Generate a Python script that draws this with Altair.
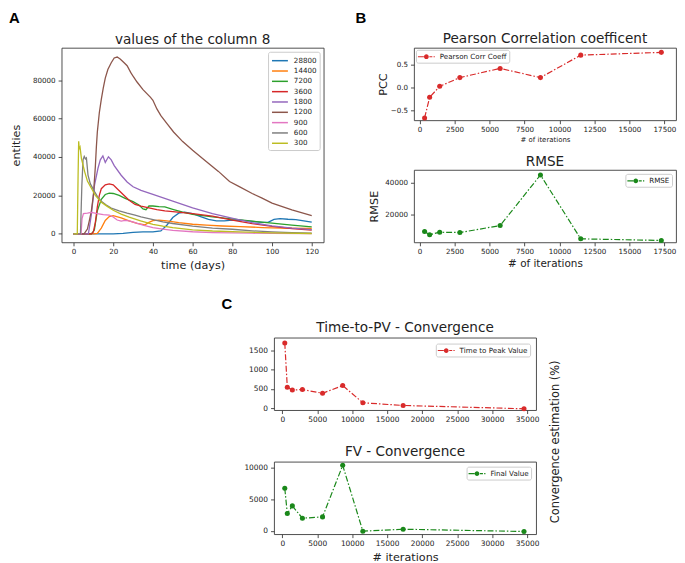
import altair as alt
import pandas as pd

FONT = "DejaVu Sans"
LETTER_FONT = "Liberation Sans"
TXT = "#222222"
RED = "#d92b2b"
GREEN = "#1a881a"

# ---------------- Panel A data ----------------
SERIES = ["28800", "14400", "7200", "3600", "1800", "1200", "900", "600", "300"]
COLORS = ["#1f77b4", "#ff7f0e", "#2ca02c", "#d62728", "#9467bd",
          "#8c564b", "#e377c2", "#7f7f7f", "#bcbd22"]

days_28800 = [0, 20, 25, 30, 35, 40, 44, 47, 50, 53, 56, 60, 64, 68, 72, 76, 80, 85, 90, 95, 98, 101, 104, 108, 112, 116, 120]
vals_28800 = [0, 0, 300, 800, 1000, 1000, 1500, 4500, 8500, 10800, 11300, 10500, 9000, 7500, 6800, 6800, 7200, 7000, 6500, 6000, 6000, 7500, 7900, 7600, 7400, 6800, 6100]

days_14400 = [0, 10, 12, 14, 16, 18, 20, 24, 28, 32, 36, 38, 40, 43, 47, 53, 60, 67, 75, 84, 95, 105, 120]
vals_14400 = [0, 0, 300, 3000, 7000, 9000, 9500, 8300, 6800, 5500, 4700, 6000, 6900, 7100, 6800, 5800, 5000, 4500, 4100, 3800, 3300, 3000, 2800]

days_7200 = [0, 9, 10.5, 12, 14, 16, 18, 20, 23, 26, 30, 33, 35, 36.5, 38, 40, 43, 46, 50, 55, 60, 70, 83, 90, 100, 110, 120]
vals_7200 = [0, 0, 2000, 12000, 18000, 20500, 21200, 21000, 20000, 18500, 16800, 15000, 13000, 12600, 14500, 14500, 14200, 14000, 12800, 11300, 10200, 8800, 7400, 6600, 5600, 4600, 3600]

days_3600 = [0, 9, 10, 11, 12, 13, 14, 16, 18, 20, 22, 25, 28, 31, 34, 38, 42, 46, 50, 55, 60, 70, 80, 90, 100, 110, 120]
vals_3600 = [0, 0, 1000, 6000, 14000, 20000, 23500, 25500, 26000, 25500, 23500, 20500, 17500, 15300, 14400, 13500, 12600, 12000, 11600, 11000, 10500, 9200, 7200, 5300, 3900, 2800, 2000]

days_1800 = [0, 7.5, 9, 10.6, 12.3, 13.5, 14.8, 16, 17.6, 19, 20.5, 24, 27, 30, 34, 40, 50, 60, 70, 83, 90, 100, 110, 120]
vals_1800 = [0, 0, 10000, 25500, 34000, 38500, 40600, 37200, 40100, 38500, 35500, 30500, 27000, 24500, 22600, 20500, 17000, 13500, 10500, 7400, 5800, 4200, 3000, 2200]

days_1200 = [0, 5.3, 7, 8, 9, 10, 11, 11.5, 12, 13, 14, 15, 16, 17.3, 19, 20.5, 22, 23.5, 25.5, 27,
             28.8, 30, 32, 35, 38.8, 40, 42, 44, 47, 50.4, 55, 60, 67, 73, 78.6, 83.5, 90, 95, 100, 110, 120]
vals_1200 = [0, 0, 2500, 7000, 12000, 20000, 35000, 45000, 53000, 63000, 70000, 76000, 81000, 85500, 89000, 91500, 92000, 91000, 89000, 87500,
             84000, 82000, 79000, 75000, 71000, 69500, 65000, 61500, 57500, 53000, 48000, 43500, 37500, 32500, 27200, 24600, 21000, 18600, 16000, 12500, 9500]

days_900 = [0, 3.8, 4.3, 5, 7, 9, 12, 15, 18, 20, 22, 24, 26, 28, 31, 35, 40, 45, 50, 60, 70, 80, 90, 100, 120]
vals_900 = [0, 0, 8000, 10500, 10800, 11200, 10500, 10000, 9800, 8800, 7200, 6600, 7000, 6800, 5800, 4600, 3300, 2500, 1800, 1100, 700, 500, 350, 250, 150]

days_600 = [0, 3.5, 4.2, 4.8, 5.4, 6, 6.5, 7.3, 8.5, 10.6, 12, 14, 16.5, 19, 23, 27, 31, 34, 39, 45, 50, 60, 70, 80, 90, 100, 110, 120]
vals_600 = [0, 0, 25000, 38500, 40300, 39000, 39500, 30600, 26000, 22000, 19500, 16900, 15000, 13400, 12000, 10800, 9700, 8800, 7700, 6300, 5400, 4000, 3000, 2400, 1600, 1000, 600, 400]

days_300 = [0, 1.9, 2.3, 2.6, 2.9, 3.3, 4, 5.6, 7, 9, 11, 14, 17, 20, 24, 28, 33.8, 40, 45, 50, 60, 70, 83.5, 100, 120]
vals_300 = [0, 0, 30000, 48200, 44000, 45000, 39200, 32400, 27500, 23700, 20000, 16500, 14300, 12300, 10300, 8700, 6800, 5000, 4000, 3200, 2100, 1500, 1000, 500, 200]

A_DAYS = [days_28800, days_14400, days_7200, days_3600, days_1800, days_1200, days_900, days_600, days_300]
A_VALS = [vals_28800, vals_14400, vals_7200, vals_3600, vals_1800, vals_1200, vals_900, vals_600, vals_300]

# ---------------- Panels B / C data ----------------
ITERS_B = [360, 720, 1440, 2880, 5760, 8640, 11520, 17280]
PCC = [-0.67, -0.22, 0.02, 0.21, 0.41, 0.21, 0.70, 0.76]
RMSE = [9700, 7700, 9300, 9100, 13400, 44700, 5200, 4200]

ITERS_C = [360, 720, 1440, 2880, 5760, 8640, 11520, 17280, 34560]
TTPV = [1690, 545, 475, 485, 390, 590, 145, 75, -10]
FV = [6740, 2740, 3950, 2000, 2210, 10370, -50, 260, -100]

# ---------------- helpers ----------------
ONE = pd.DataFrame({"k": [0]})
# legend glyph: dash, marker, dash, dot  (units of r = 5 px)
LEG_PATH = ("M-1,-0.12H0.2V0.12H-1Z "
            "M0.22,0A0.48,0.48,0,1,0,1.18,0A0.48,0.48,0,1,0,0.22,0Z "
            "M1.3,-0.12H1.9V0.12H1.3Z "
            "M2.15,-0.12H2.4V0.12H2.15Z")
LINE_PATH = "M-1,0H2.2"


def letter(ch, dx, dy):
    return alt.Chart(ONE).mark_text(
        text=ch, font=LETTER_FONT, fontSize=15, fontWeight="bold",
        align="left", baseline="top", color="black"
    ).encode(x=alt.value(dx), y=alt.value(dy))


def head(txt, cx, dy):
    return alt.Chart(ONE).mark_text(
        text=txt, font=FONT, fontSize=13.7, color=TXT,
        align="center", baseline="alphabetic"
    ).encode(x=alt.value(cx), y=alt.value(dy))


def xaxis(vals, title=None, size=11.3, pad=4, lsize=7.2):
    kw = dict(values=vals, format="d", labelFontSize=lsize, labelPadding=2)
    if title:
        kw.update(title=title, titleFontSize=size, titlePadding=pad)
    else:
        kw.update(title=None)
    return alt.Axis(**kw)


def yaxis(vals, fmt="d", title=None, size=11.3, pad=5, lsize=7.2):
    kw = dict(values=vals, format=fmt, labelFontSize=lsize, labelPadding=3)
    if title:
        kw.update(title=title, titleFontSize=size, titlePadding=pad)
    else:
        kw.update(title=None)
    return alt.Axis(**kw)


def conv_panel(xs, ys, label, field, color, xdom, ydom, xticks, yticks, yfmt, title, tdy,
               orient, offset, xt=None, xts=11.3, xtp=4, yt=None, ytp=5, lsize=7.2, extra=()):
    df = pd.DataFrame({"x": xs, "y": ys, field: [label] * len(xs)})
    x = alt.X("x:Q", scale=alt.Scale(domain=xdom, nice=False, zero=False),
              axis=xaxis(xticks, xt, xts, xtp, lsize))
    y = alt.Y("y:Q", scale=alt.Scale(domain=ydom, nice=False, zero=False),
              axis=yaxis(yticks, yfmt, yt, 11.3, ytp, lsize))
    line = alt.Chart(df).mark_line(color=color, strokeWidth=1.2,
                                   strokeDash=[6, 2, 1.5, 2]).encode(x=x, y=y)
    pts = alt.Chart(df).mark_circle(size=26, opacity=1).encode(
        x=x, y=y,
        color=alt.Color(f"{field}:N", scale=alt.Scale(domain=[label], range=[color]),
                        legend=alt.Legend(title=None, orient=orient, offset=offset,
                                          symbolType=LEG_PATH, symbolSize=100,
                                          symbolFillColor=color, symbolStrokeWidth=0,
                                          symbolOpacity=1, labelFontSize=7.2,
                                          labelOffset=12, padding=2)))
    return alt.layer(line, pts, head(title, 132, tdy), *extra).properties(
        width=264, height=73)


# ---------------- Panel A ----------------
rows = []
for s, ds, vs in zip(SERIES, A_DAYS, A_VALS):
    for d, v in zip(ds, vs):
        rows.append({"run": s, "day": d, "value": v})
dfA = pd.DataFrame(rows)

linesA = alt.Chart(dfA).mark_line(strokeWidth=1.3).encode(
    x=alt.X("day:Q", scale=alt.Scale(domain=[-6, 126], nice=False, zero=False),
            axis=xaxis(list(range(0, 121, 20)), "time (days)", 11.3, 5)),
    y=alt.Y("value:Q", scale=alt.Scale(domain=[-4400, 96800], nice=False, zero=False),
            axis=yaxis([0, 20000, 40000, 60000, 80000], "d", "entities", 11.3, 11)),
    color=alt.Color("run:N", sort=SERIES,
                    scale=alt.Scale(domain=SERIES, range=COLORS),
                    legend=alt.Legend(title=None, orient="top-right", offset=4,
                                      symbolType=LINE_PATH, symbolSize=100,
                                      symbolStrokeWidth=1.5, labelFontSize=7.2,
                                      labelOffset=11, rowPadding=0.4, padding=3)),
)
anchor = alt.Chart(ONE).mark_rect(opacity=0).encode(
    x=alt.value(-53), x2=alt.value(0), y=alt.value(-37), y2=alt.value(0))
panelA = alt.layer(linesA, anchor, letter("A", -53, -37),
                   head("values of the column 8", 132, -4)).properties(
    width=264, height=196)

# ---------------- Panel B ----------------
pcc = conv_panel(ITERS_B, PCC, "Pearson Corr Coeff", "s_pcc", RED, [-400, 18330], [-0.72, 0.86],
                 list(range(0, 17501, 2500)), [-0.5, 0.0, 0.5], ".1f",
                 "Pearson Correlation coefficent", -5, "top-left", 2,
                 xt="# of iterations", xts=7, xtp=3, yt="PCC", ytp=2,
                 extra=(letter("B", -59, -37),))
rmse = conv_panel(ITERS_B, RMSE, "RMSE", "s_rmse", GREEN, [-400, 18330], [3040, 47860],
                  list(range(0, 17501, 2500)), [20000, 40000], "d",
                  "RMSE", -3.5, "top-right", 4,
                  xt="# of iterations", xts=10.5, xtp=4, yt="RMSE")

# ---------------- Panel C ----------------
side = alt.Chart(ONE).mark_text(
    text="Convergence estimation (%)", angle=270, font=FONT, fontSize=11.5,
    color=TXT, align="center", baseline="middle"
).encode(x=alt.value(284), y=alt.value(105))
ttpv = conv_panel(ITERS_C, TTPV, "Time to Peak Value", "s_ttpv", RED, [-1180, 36280], [-44, 1827],
                  list(range(0, 35001, 5000)), [0, 500, 1000, 1500], "d",
                  "Time-to-PV - Convergence", -5.5, "top-right", 6, lsize=7.5,
                  extra=(letter("C", -53, -41), side))
fv = conv_panel(ITERS_C, FV, "Final Value", "s_fv", GREEN, [-1180, 36280], [-520, 10946],
                list(range(0, 35001, 5000)), [0, 5000, 10000], "d",
                "FV - Convergence", -5.5, "top-right", 5, lsize=7.5,
                xt="# iterations", xts=11.3, xtp=5)

spacer = alt.Chart(ONE).mark_point(opacity=0).encode(
    x=alt.value(0), y=alt.value(0)
).properties(width=1, height=1, view=alt.ViewBackground(strokeOpacity=0))

colB = alt.vconcat(pcc, rmse, spacing=50, bounds="flush").resolve_scale(
    color="independent").resolve_legend(color="independent")
colC = alt.vconcat(ttpv, fv, spacing=52, bounds="flush").resolve_scale(
    color="independent").resolve_legend(color="independent")
row1 = alt.hconcat(panelA, colB, spacing=91, bounds="flush").resolve_scale(
    color="independent").resolve_legend(color="independent")
row2 = alt.hconcat(spacer, colC, spacing=213, bounds="flush").resolve_scale(
    color="independent").resolve_legend(color="independent")

# nested concat groups count as zero-size under "flush" bounds, so the row
# spacing covers the first row's plot height (196) plus the gap (96)
chart = alt.vconcat(row1, row2, spacing=292, bounds="flush").resolve_scale(
    color="independent").resolve_legend(color="independent").properties(
    padding=0
).configure_view(
    stroke="#3a3a3a", strokeWidth=0.9
).configure_axis(
    domain=False, grid=False, tickColor="#3a3a3a", tickSize=3.5, tickWidth=0.9,
    labelFont=FONT, labelColor=TXT, titleFont=FONT, titleFontWeight="normal",
    titleColor=TXT, labelFlush=False, labelOverlap=False
).configure_legend(
    labelFont=FONT, labelColor=TXT, fillColor="white", strokeColor="#cccccc",
    cornerRadius=2
)

chart.save("out.html", embed_options={"renderer": "svg", "actions": False})
